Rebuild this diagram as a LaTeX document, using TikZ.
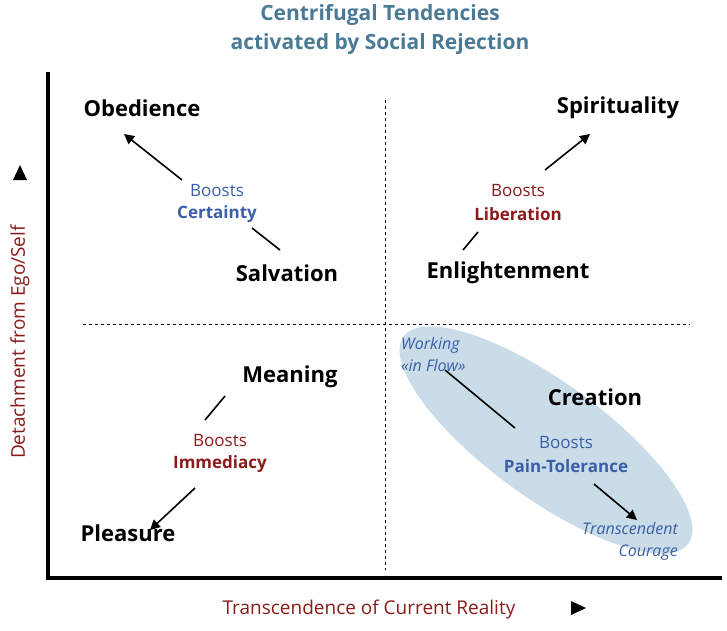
\documentclass[tikz,border=0pt]{standalone}
\usepackage{fontspec}
\setmainfont{Open Sans}
\usetikzlibrary{arrows.meta}
\definecolor{titc}{HTML}{4A7A94}
\definecolor{redc}{HTML}{8B1A1A}
\definecolor{bluc}{HTML}{3A5FA8}
\definecolor{ellc}{HTML}{C9DCE8}
\tikzset{
 big/.style={font=\fontsize{22}{26}\selectfont\bfseries, inner sep=0pt},
 bst/.style={font=\fontsize{17}{20}\selectfont, inner sep=0pt},
 bstb/.style={font=\fontsize{17}{20}\selectfont\bfseries, inner sep=0pt},
 itl/.style={font=\fontsize{16}{22}\selectfont\itshape, inner sep=0pt, text=bluc},
 arr/.style={line width=1.6pt,-{Triangle[length=10pt,width=10pt]}},
 seg/.style={line width=1.6pt},
 dsh/.style={dashed, line width=0.8pt, dash pattern=on 3pt off 3pt}
}
\begin{document}
\begin{tikzpicture}[x=1pt,y=-1pt]
\useasboundingbox (0,0) rectangle (727,630);
\fill[ellc] (546,440) ellipse[x radius=176, y radius=58, rotate=-36];
\draw[dsh] (385,100) -- (385,570);
\draw[dsh] (83,324) -- (690,324);
\draw[line width=4pt] (48,72) -- (48,578) -- (722,578);
\node[font=\fontsize{21}{29}\selectfont\bfseries, text=titc, align=center] (t) at (380,29) {Centrifugal Tendencies\\activated by Social Rejection};
\node[big] (ob) at (142,108) {Obedience};
\node[big] (sp) at (618,108) {Spirituality};
\node[big] (sa) at (287,273) {Salvation};
\node[big] (en) at (508,273) {Enlightenment};
\node[big] (me) at (290,377) {Meaning};
\node[big] (cr) at (595,397) {Creation};
\node[big] (pl) at (128,533) {Pleasure};
\node[bst,text=bluc] (b1) at (217,191) {Boosts};
\node[bstb,text=bluc] (c1) at (217,214) {Certainty};
\node[bst,text=redc] (b2) at (518,191) {Boosts};
\node[bstb,text=redc] (c2) at (518,214) {Liberation};
\node[bst,text=redc] (b3) at (220,441) {Boosts};
\node[bstb,text=redc] (c3) at (220,464) {Immediacy};
\node[bst,text=bluc] (b4) at (566,443) {Boosts};
\node[bstb,text=bluc] (c4) at (566,466) {Pain-Tolerance};
\node[itl,align=left,anchor=north west] (wf) at (401,337) {Working\\«in Flow»};
\node[itl,align=right,anchor=north east] (tc) at (678,522) {Transcendent\\Courage};
\node[font=\fontsize{19}{22}\selectfont, text=redc, inner sep=0pt] (xl) at (369,609) {Transcendence of Current Reality};
\node[font=\fontsize{19}{22}\selectfont, text=redc, inner sep=0pt, rotate=90] (yl) at (20,342) {Detachment from Ego/Self};
\fill (571,601) -- (571,615) -- (586,608) -- cycle;
\fill (13,180) -- (27,180) -- (20,165) -- cycle;
\coordinate (a1) at (280,250); \coordinate (a2) at (252,228);
\coordinate (a3) at (182,180); \coordinate (a4) at (124,134);
\draw[seg] (a1) -- (a2); \draw[arr] (a3) -- (a4);
\coordinate (e1) at (463,250); \coordinate (e2) at (478,232);
\coordinate (e3) at (545,170); \coordinate (e4) at (590,134);
\draw[seg] (e1) -- (e2); \draw[arr] (e3) -- (e4);
\coordinate (m1) at (225,396); \coordinate (m2) at (205,420);
\coordinate (m3) at (195,488); \coordinate (m4) at (150,530);
\draw[seg] (m1) -- (m2); \draw[arr] (m3) -- (m4);
\coordinate (w1) at (445,370); \coordinate (w2) at (515,428);
\coordinate (w3) at (594,484); \coordinate (w4) at (637,520);
\draw[seg] (w1) -- (w2); \draw[arr] (w3) -- (w4);
\end{tikzpicture}
\end{document}
